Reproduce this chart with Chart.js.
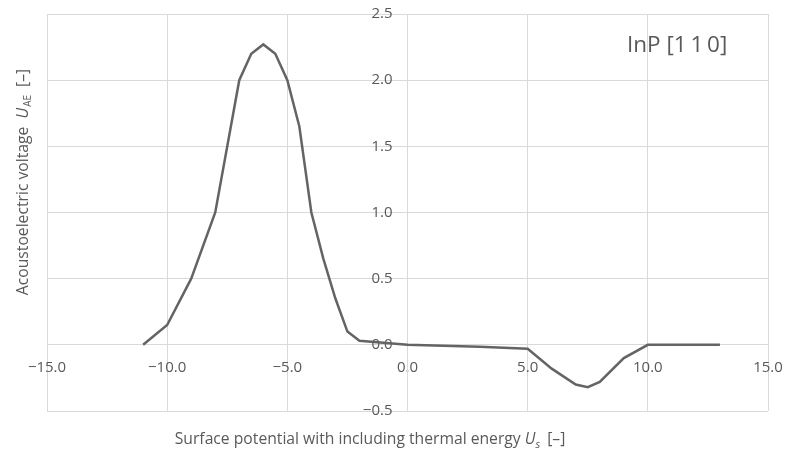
<!DOCTYPE html>
<html>
<head>
<meta charset="utf-8">
<script src="https://cdn.jsdelivr.net/npm/chart.js@4/dist/chart.umd.min.js"></script>
<style>
  html, body { margin: 0; padding: 0; background: #ffffff; }
  #wrap { width: 786px; height: 450px; position: relative; }
</style>
</head>
<body>
<div id="wrap"><canvas id="c"></canvas></div>
<script>
// Data
const surfacePotential = [-11, -10, -9, -8, -7, -6.5, -6, -5.5, -5, -4.5, -4, -3.5, -3, -2.5, -2, 0, 3, 5, 6, 7, 7.5, 8, 9, 10, 13];
const aeVoltage       = [0, 0.15, 0.5, 1.0, 2.0, 2.2, 2.27, 2.2, 2.0, 1.65, 1.0, 0.65, 0.35, 0.1, 0.03, 0.0, -0.015, -0.03, -0.18, -0.3, -0.32, -0.28, -0.1, 0, 0];
const xTicks = [-15, -10, -5, 0, 5, 10, 15];
const yTicks = [-0.5, 0, 0.5, 1.0, 1.5, 2.0, 2.5];
const annotationText = "InP [1\u20091\u20090]";

const FONT = "'Open Sans', 'Liberation Sans', sans-serif";
const TEXT_COLOR = '#595959';
const GRID_COLOR = '#d9d9d9';

function fmt(v) {
  const s = Number(v).toFixed(1);
  return s.replace('-', '\u2212');
}

const points = surfacePotential.map((x, i) => ({ x: x, y: aeVoltage[i] }));

function drawRich(ctx, segments, x, y, rotate) {
  ctx.save();
  ctx.translate(x, y);
  if (rotate) ctx.rotate(-Math.PI / 2);
  let total = 0;
  segments.forEach(s => { ctx.font = s.font; total += ctx.measureText(s.text).width + (s.gap || 0); });
  let cx = -total / 2;
  ctx.textBaseline = 'alphabetic';
  ctx.textAlign = 'left';
  ctx.fillStyle = TEXT_COLOR;
  segments.forEach(s => {
    ctx.font = s.font;
    ctx.fillText(s.text, cx, s.dy || 0);
    cx += ctx.measureText(s.text).width + (s.gap || 0);
  });
  ctx.restore();
}

const richTitles = {
  id: 'richTitles',
  afterDraw(chart) {
    const ctx = chart.ctx;
    const base = "15.7px " + FONT;
    const ital = "italic 15.7px " + FONT;
    const sub = "10px " + FONT;
    const subIt = "italic 11px " + FONT;
    // x-axis title
    drawRich(ctx, [
      { text: "Surface potential with including thermal energy ", font: base },
      { text: "U", font: ital },
      { text: "s", font: subIt, dy: 4, gap: 7 },
      { text: "[\u2013]", font: base }
    ], 370, 444, false);
    // y-axis title
    drawRich(ctx, [
      { text: "Acoustoelectric voltage  ", font: base },
      { text: "U", font: ital, gap: 1 },
      { text: "AE", font: sub, dy: 3, gap: 8 },
      { text: "[\u2013]", font: base }
    ], 28, 182, true);
    // annotation
    ctx.save();
    ctx.font = "22.5px " + FONT;
    ctx.fillStyle = TEXT_COLOR;
    ctx.textAlign = 'left';
    ctx.textBaseline = 'middle';
    ctx.fillText(annotationText, 627, 46);
    ctx.restore();
  }
};

function zeroPadding(scale) {
  scale.paddingLeft = 0; scale.paddingRight = 0;
  scale.paddingTop = 0; scale.paddingBottom = 0;
}

new Chart(document.getElementById('c'), {
  type: 'scatter',
  data: {
    datasets: [{
      data: points,
      showLine: true,
      borderColor: '#646464',
      backgroundColor: '#646464',
      borderWidth: 2.5,
      pointRadius: 0,
      tension: 0
    }]
  },
  options: {
    responsive: true,
    maintainAspectRatio: false,
    animation: false,
    layout: { padding: { left: 47, right: 18, top: 14, bottom: 39 } },
    plugins: { legend: { display: false }, tooltip: { enabled: false } },
    scales: {
      x: {
        type: 'linear',
        min: -15, max: 15,
        position: { y: 0 },
        afterBuildTicks: (s) => { s.ticks = xTicks.map(v => ({ value: v })); },
        afterFit: zeroPadding,
        ticks: {
          callback: (v) => fmt(v),
          color: TEXT_COLOR,
          font: { family: FONT, size: 15 },
          padding: 14,
          maxRotation: 0,
          autoSkip: false
        },
        grid: { color: GRID_COLOR, lineWidth: 1, drawTicks: false },
        border: { display: true, color: GRID_COLOR, width: 1 }
      },
      y: {
        type: 'linear',
        min: -0.5, max: 2.5,
        position: { x: 0 },
        afterBuildTicks: (s) => { s.ticks = yTicks.map(v => ({ value: v })); },
        afterFit: zeroPadding,
        ticks: {
          callback: (v) => fmt(v) + '\u2003',
          color: TEXT_COLOR,
          font: { family: FONT, size: 15 },
          autoSkip: false
        },
        grid: { color: GRID_COLOR, lineWidth: 1, drawTicks: false },
        border: { display: true, color: GRID_COLOR, width: 1 }
      }
    }
  },
  plugins: [richTitles]
});
</script>
</body>
</html>
